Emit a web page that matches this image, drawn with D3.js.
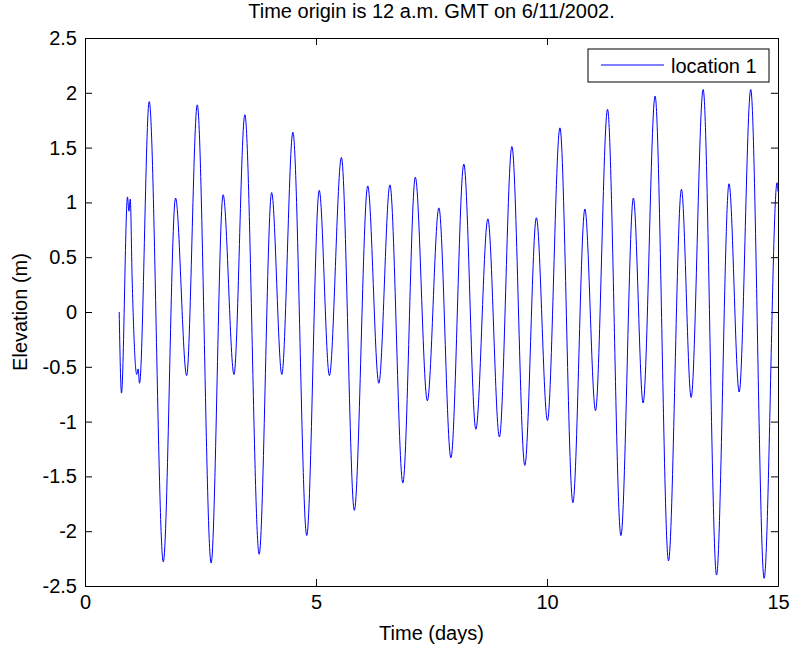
<!DOCTYPE html>
<html>
  <head>
    <style>
      body { margin: 0; background: white; }
      svg { display: block; }
      .tick text { font: 20px "Liberation Sans", Arial, sans-serif; fill: black; }
      .domain, .tick line { stroke: black; stroke-width: 1; }
      .label { font: 20px "Liberation Sans", Arial, sans-serif; fill: black; }
      .tide { fill: none; stroke: #0000ff; stroke-width: 1; }
    </style>
  </head>
  <body>
    <script src="https://d3js.org/d3.v7.min.js"></script>
    <svg></svg>
    <script>
      // Turning points of the elevation record
      const timeDays = [
        0.74, 0.79, 0.92, 0.95, 0.98, 1.02, 1.12, 1.15, 1.18,
        1.39, 1.695, 1.96, 2.2, 2.43, 2.73, 2.99, 3.225, 3.46, 3.77,
        4.04, 4.26, 4.5, 4.8, 5.07, 5.29, 5.55, 5.83, 6.12, 6.36,
        6.6, 6.88, 7.15, 7.41, 7.66, 7.92, 8.2, 8.46, 8.72, 8.97,
        9.24, 9.52, 9.77, 10.01, 10.28, 10.56, 10.82, 11.05, 11.31, 11.6,
        11.87, 12.08, 12.34, 12.63, 12.91, 13.12, 13.38, 13.67, 13.94, 14.16,
        14.41, 14.7, 14.98, 15.0
      ];
      const elevation = [
        0, -0.74, 1.05, 0.92, 1.03, 0.31, -0.57, -0.52, -0.65,
        1.92, -2.28, 1.04, -0.58, 1.89, -2.29, 1.07, -0.57, 1.8, -2.21,
        1.09, -0.57, 1.64, -2.04, 1.11, -0.58, 1.41, -1.81, 1.15, -0.65,
        1.16, -1.56, 1.23, -0.81, 0.95, -1.33, 1.35, -1.07, 0.85, -1.14,
        1.51, -1.4, 0.86, -0.99, 1.68, -1.74, 0.94, -0.9, 1.85, -2.04,
        1.04, -0.83, 1.97, -2.27, 1.12, -0.78, 2.03, -2.4, 1.17, -0.73,
        2.03, -2.43, 1.18, 1.1
      ];
      const xTicks = [0, 5, 10, 15];
      const yTicks = [-2.5, -2, -1.5, -1, -0.5, 0, 0.5, 1, 1.5, 2, 2.5];
      const titleText = "Time origin is 12 a.m. GMT on 6/11/2002.";
      const seriesName = "location 1";

      const margin = { top: 38, right: 14, bottom: 60, left: 85 };
      const width = 792 - margin.left - margin.right;
      const height = 646 - margin.top - margin.bottom;

      const svg = d3.select("svg").attr("width", 792).attr("height", 646)
        .append("g")
        .attr("transform", `translate(${margin.left},${margin.top})`);

      const x = d3.scaleLinear().domain([0, 15]).range([0, width]);
      const y = d3.scaleLinear().domain([-2.5, 2.5]).range([height, 0]);

      const fmt = (d) => String(d);

      // ticks point inwards on all four sides, like a boxed matlab axes
      svg.append("g")
        .attr("transform", `translate(0,${height})`)
        .call(d3.axisBottom(x).tickValues(xTicks).tickFormat(fmt)
          .tickSizeInner(-7).tickSizeOuter(0).tickPadding(9));
      svg.append("g")
        .call(d3.axisLeft(y).tickValues(yTicks).tickFormat(fmt)
          .tickSizeInner(-7).tickSizeOuter(0).tickPadding(8));
      svg.append("g")
        .call(d3.axisTop(x).tickValues(xTicks).tickFormat("")
          .tickSizeInner(-7).tickSizeOuter(0));
      svg.append("g")
        .attr("transform", `translate(${width},0)`)
        .call(d3.axisRight(y).tickValues(yTicks).tickFormat("")
          .tickSizeInner(-7).tickSizeOuter(0));

      const points = timeDays.map((t, i) => ({ t: t, v: elevation[i] }));
      const line = d3.line()
        .x((d) => x(d.t))
        .y((d) => y(d.v))
        .curve(d3.curveMonotoneX);
      svg.append("path").datum(points).attr("class", "tide").attr("d", line);

      // title and axis labels
      svg.append("text").attr("class", "label")
        .attr("x", width / 2).attr("y", -20)
        .attr("text-anchor", "middle").text(titleText);
      svg.append("text").attr("class", "label")
        .attr("x", width / 2).attr("y", height + 54)
        .attr("text-anchor", "middle").text("Time (days)");
      svg.append("text").attr("class", "label")
        .attr("transform", `translate(-58,${height / 2}) rotate(-90)`)
        .attr("text-anchor", "middle").text("Elevation (m)");

      // legend
      const legend = svg.append("g").attr("transform", `translate(${width - 190},11)`);
      legend.append("rect")
        .attr("width", 181).attr("height", 33)
        .attr("fill", "white").attr("stroke", "black");
      legend.append("line")
        .attr("x1", 13).attr("x2", 76).attr("y1", 16).attr("y2", 16)
        .attr("class", "tide");
      legend.append("text").attr("class", "label")
        .attr("x", 83).attr("y", 24).text(seriesName);
    </script>
  </body>
</html>
